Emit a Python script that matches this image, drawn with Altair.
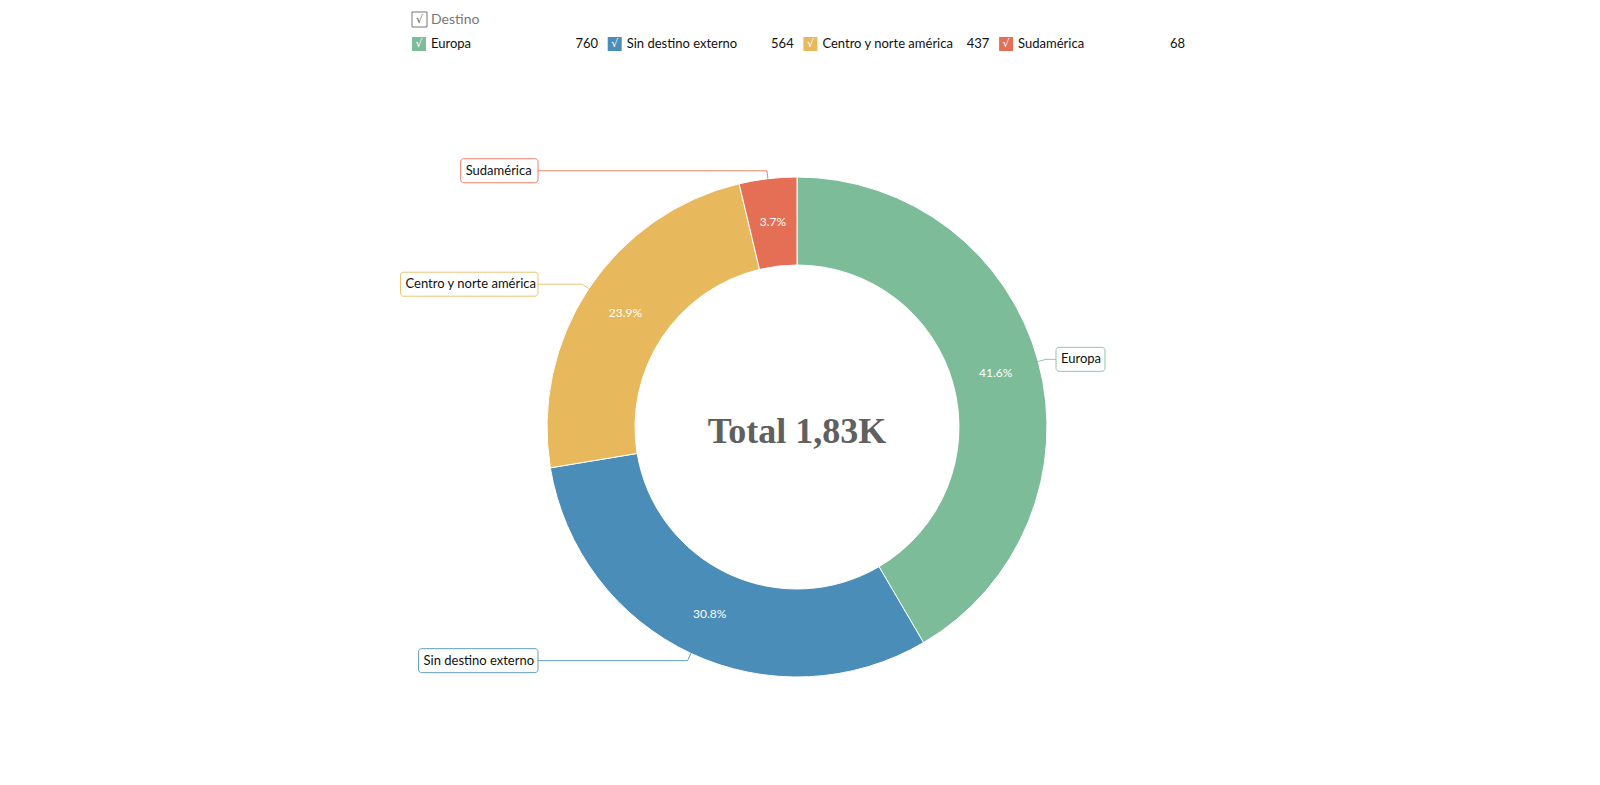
import altair as alt
import pandas as pd
import numpy as np

# ---- data ----
categories = ["Europa", "Sin destino externo", "Centro y norte américa", "Sudamérica"]
values = [760, 564, 437, 68]
colors = ["#7CBC99", "#4A8DB8", "#E8B85C", "#E46F55"]
legend_title = "Destino"

# ---- layout ----
W, H = 1600, 785
CX, CY = 797, 427
R_IN, R_OUT = 162, 250
LABEL_R = 206
ELBOW_R = 258
EDGE = 259
FONT = "Lato"

total = sum(values)
vals = np.array(values, dtype=float)
mid = (np.cumsum(vals) - vals / 2) / total * 2 * np.pi

df = pd.DataFrame({"cat": categories, "value": values, "idx": range(len(values))})
df["pct"] = [f"{v / total * 100:.1f}%" for v in values]


def text_w(s, size=13):
    w = 0.0
    for ch in s:
        if ch == " ":
            w += 0.25
        elif ch in "iljtrf":
            w += 0.32
        elif ch in "mw":
            w += 0.82
        elif ch.isupper():
            w += 0.6
        else:
            w += 0.52
    return w * size


color_scale = alt.Scale(domain=categories, range=colors)

# leader lines
rows = []
box_rows = []
for i, c in enumerate(categories):
    s, co = np.sin(mid[i]), np.cos(mid[i])
    ax, ay = CX + R_OUT * s, CY - R_OUT * co
    ex, ey = CX + ELBOW_R * s, CY - ELBOW_R * co
    right = s > 0
    bx = CX + EDGE if right else CX - EDGE
    rows += [
        {"cat": c, "step": 0, "x": ax, "y": ay},
        {"cat": c, "step": 1, "x": ex, "y": ey},
        {"cat": c, "step": 2, "x": bx, "y": ey},
    ]
    w = text_w(c) + 10
    x0, x1 = (bx, bx + w) if right else (bx - w, bx)
    box_rows.append({
        "cat": c, "x0": x0, "x1": x1, "y0": ey - 12, "y1": ey + 12, "ty": ey,
        "tx": x0 + 5, "right": right,
    })
lines_df = pd.DataFrame(rows)
box_df = pd.DataFrame(box_rows)

X = lambda f: alt.X(f, type="quantitative", scale=None, axis=None)
Y = lambda f: alt.Y(f, type="quantitative", scale=None, axis=None)

arcs = alt.Chart(df).mark_arc(innerRadius=R_IN, outerRadius=R_OUT, stroke="white", strokeWidth=1).encode(
    theta=alt.Theta("value:Q", stack=True),
    order=alt.Order("idx:Q"),
    color=alt.Color("cat:N", scale=color_scale, legend=None),
    x=alt.value(CX), y=alt.value(CY),
)

pct = alt.Chart(df).mark_text(radius=LABEL_R, color="white", fontSize=12, font=FONT).encode(
    theta=alt.Theta("value:Q", stack=True),
    order=alt.Order("idx:Q"),
    text="pct:N",
    x=alt.value(CX), y=alt.value(CY),
)

leaders = alt.Chart(lines_df).mark_line(strokeWidth=1, opacity=0.85).encode(
    x=X("x"), y=Y("y"),
    color=alt.Color("cat:N", scale=color_scale, legend=None),
    detail="cat:N",
    order="step:Q",
)

boxes = alt.Chart(box_df).mark_rect(fill="white", cornerRadius=3, strokeWidth=1, strokeOpacity=0.85).encode(
    x=X("x0"), x2="x1", y=Y("y0"), y2="y1",
    stroke=alt.Stroke("cat:N", scale=color_scale, legend=None),
)

box_text = alt.Chart(box_df).mark_text(align="left", baseline="middle", fontSize=13, font=FONT, color="#111").encode(
    x=X("tx"), y=Y("ty"), text="cat:N",
)

center = alt.Chart(pd.DataFrame({"t": [f"Total {total / 1000:.2f}K".replace(".", ",")]})).mark_text(
    font="Liberation Serif", fontWeight="bold", fontSize=36, color="#606060", baseline="alphabetic", align="center"
).encode(x=alt.value(CX), y=alt.value(443), text="t:N")

# ---- legend ----
LX0, LPITCH = 412, 195.7
leg = pd.DataFrame({"cat": categories, "value": [str(v) for v in values]})
leg["sx"] = LX0 + np.arange(len(categories)) * LPITCH
leg["sx2"] = leg["sx"] + 14
leg["cx"] = leg["sx"] + 7
leg["tx"] = leg["sx"] + 19
leg["vx"] = leg["sx"] + 186
leg["y0"] = 37
leg["y1"] = 51
leg["ty"] = 44
leg["chk"] = "√"

sw = alt.Chart(leg).mark_rect().encode(
    x=X("sx"), x2="sx2", y=Y("y0"), y2="y1",
    color=alt.Color("cat:N", scale=color_scale, legend=None),
)
sw_chk = alt.Chart(leg).mark_text(color="white", fontSize=11, font="DejaVu Sans", baseline="middle").encode(
    x=X("cx"), y=Y("ty"), text="chk:N")
sw_name = alt.Chart(leg).mark_text(align="left", baseline="middle", fontSize=13, font=FONT, color="#111").encode(
    x=X("tx"), y=Y("ty"), text="cat:N")
sw_val = alt.Chart(leg).mark_text(align="right", baseline="middle", fontSize=13, font=FONT, color="#111").encode(
    x=X("vx"), y=Y("ty"), text="value:N")

title_df = pd.DataFrame({"t": [legend_title], "x0": [LX0], "x1": [LX0 + 15], "y0": [12], "y1": [27],
                         "cx": [LX0 + 7.5], "cy": [20], "tx": [LX0 + 19], "chk": ["√"]})
t_box = alt.Chart(title_df).mark_rect(fill="white", stroke="#777", strokeWidth=1).encode(
    x=X("x0"), x2="x1", y=Y("y0"), y2="y1")
t_chk = alt.Chart(title_df).mark_text(color="#666", fontSize=11, font="DejaVu Sans", baseline="middle").encode(
    x=X("cx"), y=Y("cy"), text="chk:N")
t_txt = alt.Chart(title_df).mark_text(align="left", baseline="middle", fontSize=14, font=FONT, color="#777").encode(
    x=X("tx"), y=Y("cy"), text="t:N")

chart = alt.layer(
    arcs, pct, leaders, boxes, box_text, center,
    sw, sw_chk, sw_name, sw_val, t_box, t_chk, t_txt,
).properties(
    width=W, height=H, padding=0, autosize=alt.AutoSizeParams(type="none")
).configure_view(stroke=None)

chart.save("out.html", embed_options={"renderer": "svg", "actions": False})
